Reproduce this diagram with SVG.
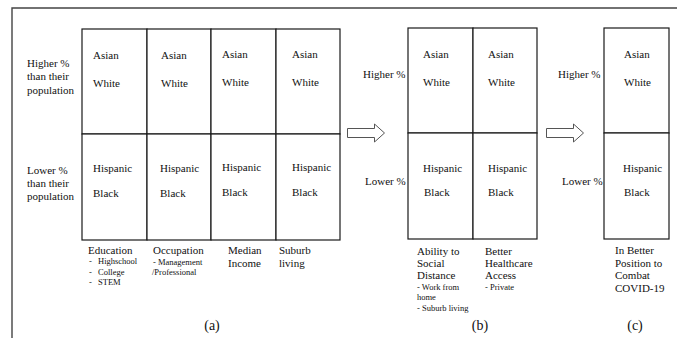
<svg xmlns="http://www.w3.org/2000/svg" width="677" height="338" viewBox="0 0 677 338">
<style>
text{font-family:"Liberation Serif","Times New Roman",serif;fill:#111}
.m{font-size:11px}
.s{font-size:8.5px}
.cap{font-size:14px;text-anchor:middle}
.cell{fill:#fff;stroke:#1a1a1a;stroke-width:1.2}
.frame{fill:none;stroke:#444;stroke-width:1.4}
.arrow{fill:#fff;stroke:#555;stroke-width:1}
</style>
<rect width="677" height="338" fill="#fff"/>
<path class="frame" d="M12,340 L12,8 L680,8"/>

<g id="panel-a">
  <g id="a-labels">
    <text class="m" x="27" y="67">Higher %</text>
    <text class="m" x="27" y="80">than their</text>
    <text class="m" x="27" y="94">population</text>
    <text class="m" x="27" y="174">Lower %</text>
    <text class="m" x="27" y="187">than their</text>
    <text class="m" x="27" y="200">population</text>
  </g>
  <g id="a-education">
    <rect class="cell" x="82" y="29" width="65" height="105"/>
    <rect class="cell" x="82" y="134" width="65" height="106"/>
    <text class="m" x="93" y="59">Asian</text>
    <text class="m" x="93" y="87">White</text>
    <text class="m" x="93" y="172">Hispanic</text>
    <text class="m" x="93" y="197">Black</text>
    <text class="m" x="88" y="254">Education</text>
    <text class="s" x="89" y="264">-</text><text class="s" x="98" y="264">Highschool</text>
    <text class="s" x="89" y="275">-</text><text class="s" x="98" y="275">College</text>
    <text class="s" x="89" y="285">-</text><text class="s" x="98" y="285">STEM</text>
  </g>
  <g id="a-occupation">
    <rect class="cell" x="147" y="29" width="64" height="105"/>
    <rect class="cell" x="147" y="134" width="64" height="106"/>
    <text class="m" x="161" y="59">Asian</text>
    <text class="m" x="161" y="87">White</text>
    <text class="m" x="160" y="172">Hispanic</text>
    <text class="m" x="160" y="197">Black</text>
    <text class="m" x="153" y="254">Occupation</text>
    <text class="s" x="153" y="265">- Management</text>
    <text class="s" x="152" y="275">/Professional</text>
  </g>
  <g id="a-income">
    <rect class="cell" x="211" y="29" width="65" height="105"/>
    <rect class="cell" x="211" y="134" width="65" height="106"/>
    <text class="m" x="222" y="58">Asian</text>
    <text class="m" x="222" y="86">White</text>
    <text class="m" x="222" y="171">Hispanic</text>
    <text class="m" x="222" y="196">Black</text>
    <text class="m" x="228" y="254">Median</text>
    <text class="m" x="228" y="267">Income</text>
  </g>
  <g id="a-suburb">
    <rect class="cell" x="276" y="29" width="64" height="105"/>
    <rect class="cell" x="276" y="134" width="64" height="106"/>
    <text class="m" x="292" y="58">Asian</text>
    <text class="m" x="292" y="86">White</text>
    <text class="m" x="292" y="171">Hispanic</text>
    <text class="m" x="292" y="196">Black</text>
    <text class="m" x="279" y="254">Suburb</text>
    <text class="m" x="279" y="267">living</text>
  </g>
  <text class="cap" x="212" y="330">(a)</text>
</g>

<g id="connectors">
  <path class="arrow" d="M347.5,128.5 H374.5 V124 L384.5,133 L374.5,142 V137.5 H347.5 Z"/>
  <path class="arrow" d="M546.5,128.5 H573.5 V124 L583.5,133 L573.5,142 V137.5 H546.5 Z"/>
</g>

<g id="panel-b">
  <g id="b-labels">
    <text class="m" x="363" y="78">Higher %</text>
    <text class="m" x="365" y="185">Lower %</text>
  </g>
  <g id="b-distance">
    <rect class="cell" x="408" y="28" width="65" height="105"/>
    <rect class="cell" x="408" y="133" width="65" height="106"/>
    <text class="m" x="423" y="58">Asian</text>
    <text class="m" x="423" y="86">White</text>
    <text class="m" x="423" y="172">Hispanic</text>
    <text class="m" x="424" y="196">Black</text>
    <text class="m" x="417" y="255">Ability to</text>
    <text class="m" x="417" y="267">Social</text>
    <text class="m" x="417" y="279">Distance</text>
    <text class="s" x="417" y="290">- Work from</text>
    <text class="s" x="417" y="300">home</text>
    <text class="s" x="417" y="311">- Suburb living</text>
  </g>
  <g id="b-healthcare">
    <rect class="cell" x="473" y="28" width="64" height="105"/>
    <rect class="cell" x="473" y="133" width="64" height="106"/>
    <text class="m" x="488" y="58">Asian</text>
    <text class="m" x="488" y="86">White</text>
    <text class="m" x="488" y="172">Hispanic</text>
    <text class="m" x="488" y="196">Black</text>
    <text class="m" x="485" y="255">Better</text>
    <text class="m" x="485" y="267">Healthcare</text>
    <text class="m" x="485" y="279">Access</text>
    <text class="s" x="485" y="290">- Private</text>
  </g>
  <text class="cap" x="480" y="330">(b)</text>
</g>

<g id="panel-c">
  <g id="c-labels">
    <text class="m" x="558" y="78">Higher %</text>
    <text class="m" x="562" y="185">Lower %</text>
  </g>
  <g id="c-combat">
    <rect class="cell" x="604" y="28" width="65" height="105"/>
    <rect class="cell" x="604" y="133" width="65" height="106"/>
    <text class="m" x="624" y="58">Asian</text>
    <text class="m" x="624" y="86">White</text>
    <text class="m" x="623" y="172">Hispanic</text>
    <text class="m" x="624" y="196">Black</text>
    <text class="m" x="615" y="254">In Better</text>
    <text class="m" x="615" y="267">Position to</text>
    <text class="m" x="615" y="279">Combat</text>
    <text class="m" x="615" y="292">COVID-19</text>
  </g>
  <text class="cap" x="635" y="330">(c)</text>
</g>
</svg>
